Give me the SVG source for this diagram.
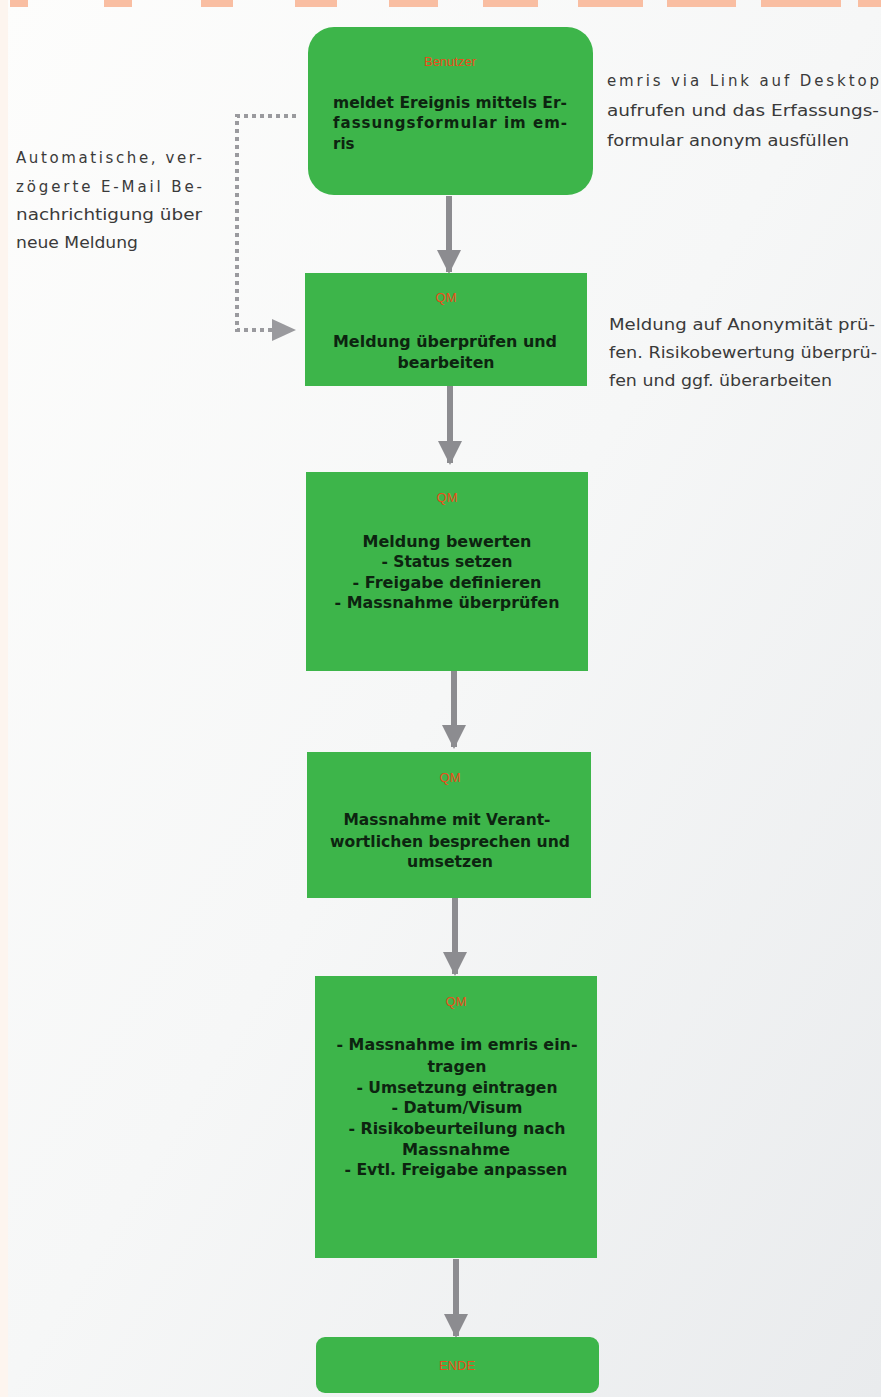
<svg xmlns="http://www.w3.org/2000/svg" width="881" height="1397" viewBox="0 0 881 1397">
<defs>
<linearGradient id="bg" x1="0" y1="0" x2="1" y2="1">
<stop offset="0" stop-color="#fdfdfc"/>
<stop offset="0.5" stop-color="#f6f7f7"/>
<stop offset="1" stop-color="#e9ebed"/>
</linearGradient>
<marker id="ah" markerUnits="userSpaceOnUse" markerWidth="24" markerHeight="26" refX="22" refY="12" orient="auto">
<path d="M0,0 L24,12 L0,24 Z" fill="#8c8c90"/>
</marker>
</defs>
<style>
.node{fill:#3db54a;}
.lbl{font-family:"Liberation Sans",Arial,sans-serif;font-size:13px;fill:#e94e1a;text-anchor:middle;}
.body{font-family:"DejaVu Sans","Liberation Sans",sans-serif;font-size:15px;font-weight:bold;fill:#0d2410;}
.c{text-anchor:middle;}
.side{font-family:"DejaVu Sans","Liberation Sans",sans-serif;font-size:15px;fill:#3a3a3a;}
.arrow{stroke:#8c8c90;stroke-width:6;fill:none;marker-end:url(#ah);}
.dots{stroke:#9a9a9e;stroke-width:4;fill:none;stroke-dasharray:4 4;}
</style>
<rect x="0" y="0" width="881" height="1397" fill="url(#bg)"/>
<rect x="0" y="0" width="8" height="1397" fill="#fdf5ef"/>
<g id="topband" fill="#f9bea2">
<rect x="10" y="0" width="18" height="7"/>
<rect x="104" y="0" width="28" height="7"/>
<rect x="201" y="0" width="32" height="7"/>
<rect x="295" y="0" width="42" height="7"/>
<rect x="389" y="0" width="49" height="7"/>
<rect x="483" y="0" width="55" height="7"/>
<rect x="578" y="0" width="65" height="7"/>
<rect x="667" y="0" width="69" height="7"/>
<rect x="761" y="0" width="80" height="7"/>
<rect x="858" y="0" width="23" height="7"/>
</g>
<g id="connectors">
<path class="arrow" d="M449,196 L449,272"/>
<path class="arrow" d="M450,386 L450,463"/>
<path class="arrow" d="M454,671 L454,747"/>
<path class="arrow" d="M455,898 L455,974"/>
<path class="arrow" d="M456,1259 L456,1336"/>
<path class="dots" d="M296,116 L237,116 L237,330 L272,330"/>
<path d="M272,319 L296,330 L272,341 Z" fill="#9a9a9e"/>
</g>
<g id="n1">
<rect class="node" x="308" y="27" width="285" height="168" rx="26"/>
<text class="lbl" x="450" y="66">Benutzer</text>
<text class="body" x="333" y="108" textLength="234" lengthAdjust="spacingAndGlyphs">meldet Ereignis mittels Er-</text>
<text class="body" x="333" y="128" textLength="234" lengthAdjust="spacing">fassungsformular im em-</text>
<text class="body" x="333" y="149">ris</text>
</g>
<g id="n2">
<rect class="node" x="305" y="273" width="282" height="113"/>
<text class="lbl" x="446" y="302">QM</text>
<text class="body c" x="445" y="347" textLength="224" lengthAdjust="spacingAndGlyphs">Meldung überprüfen und</text>
<text class="body c" x="446" y="368" textLength="97" lengthAdjust="spacingAndGlyphs">bearbeiten</text>
</g>
<g id="n3">
<rect class="node" x="306" y="472" width="282" height="199"/>
<text class="lbl" x="447" y="502">QM</text>
<text class="body c" x="447" y="547" textLength="169" lengthAdjust="spacingAndGlyphs">Meldung bewerten</text>
<text class="body c" x="447" y="567" textLength="131" lengthAdjust="spacingAndGlyphs">- Status setzen</text>
<text class="body c" x="447" y="588" textLength="189" lengthAdjust="spacingAndGlyphs">- Freigabe definieren</text>
<text class="body c" x="447" y="608" textLength="225" lengthAdjust="spacingAndGlyphs">- Massnahme überprüfen</text>
</g>
<g id="n4">
<rect class="node" x="307" y="752" width="284" height="146"/>
<text class="lbl" x="450" y="782">QM</text>
<text class="body c" x="447" y="825" textLength="207" lengthAdjust="spacingAndGlyphs">Massnahme mit Verant-</text>
<text class="body c" x="450" y="847" textLength="240" lengthAdjust="spacingAndGlyphs">wortlichen besprechen und</text>
<text class="body c" x="450" y="867" textLength="86" lengthAdjust="spacingAndGlyphs">umsetzen</text>
</g>
<g id="n5">
<rect class="node" x="315" y="976" width="282" height="282"/>
<text class="lbl" x="456" y="1006">QM</text>
<text class="body c" x="457" y="1050" textLength="241" lengthAdjust="spacingAndGlyphs">- Massnahme im emris ein-</text>
<text class="body c" x="457" y="1072" textLength="59" lengthAdjust="spacingAndGlyphs">tragen</text>
<text class="body c" x="457" y="1093" textLength="201" lengthAdjust="spacingAndGlyphs">- Umsetzung eintragen</text>
<text class="body c" x="457" y="1113" textLength="131" lengthAdjust="spacingAndGlyphs">- Datum/Visum</text>
<text class="body c" x="457" y="1134" textLength="217" lengthAdjust="spacingAndGlyphs">- Risikobeurteilung nach</text>
<text class="body c" x="456" y="1155" textLength="108" lengthAdjust="spacingAndGlyphs">Massnahme</text>
<text class="body c" x="456" y="1175" textLength="223" lengthAdjust="spacingAndGlyphs">- Evtl. Freigabe anpassen</text>
</g>
<g id="n6">
<rect class="node" x="316" y="1337" width="283" height="56" rx="9"/>
<text class="lbl" x="457" y="1370">ENDE</text>
</g>
<g id="note-left">
<text class="side" x="16" y="163" textLength="186" lengthAdjust="spacing">Automatische, ver-</text>
<text class="side" x="16" y="192" textLength="186" lengthAdjust="spacing">zögerte E-Mail Be-</text>
<text class="side" x="16" y="220" textLength="186" lengthAdjust="spacingAndGlyphs">nachrichtigung über</text>
<text class="side" x="16" y="248" textLength="122" lengthAdjust="spacingAndGlyphs">neue Meldung</text>
</g>
<g id="note-right1">
<text class="side" x="607" y="86" textLength="272" lengthAdjust="spacing">emris via Link auf Desktop</text>
<text class="side" x="607" y="116" textLength="272" lengthAdjust="spacingAndGlyphs">aufrufen und das Erfassungs-</text>
<text class="side" x="607" y="146" textLength="242" lengthAdjust="spacingAndGlyphs">formular anonym ausfüllen</text>
</g>
<g id="note-right2">
<text class="side" x="609" y="330" textLength="266" lengthAdjust="spacingAndGlyphs">Meldung auf Anonymität prü-</text>
<text class="side" x="609" y="358" textLength="268" lengthAdjust="spacingAndGlyphs">fen. Risikobewertung überprü-</text>
<text class="side" x="609" y="386" textLength="223" lengthAdjust="spacingAndGlyphs">fen und ggf. überarbeiten</text>
</g>
</svg>
